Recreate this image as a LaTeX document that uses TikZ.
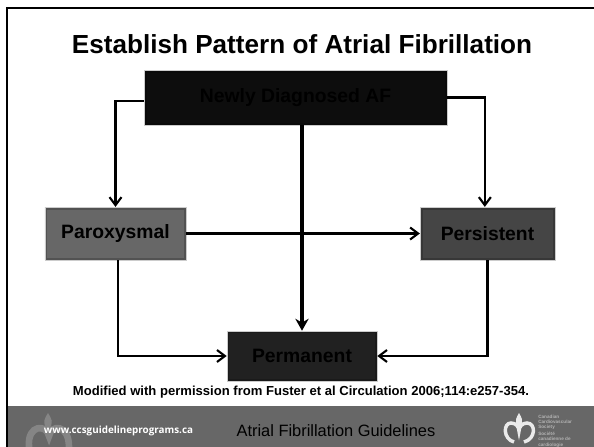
\documentclass[tikz,border=0pt]{standalone}
\usepackage{xcolor}
\usepackage{fontspec}
\setmainfont{Liberation Sans}
\newfontfamily\webfont{Open Sans}
\usepackage{tikz}
\usetikzlibrary{arrows.meta,positioning}

\definecolor{bandgray}{HTML}{676767}
\definecolor{logogray}{HTML}{858585}
\definecolor{logolight}{HTML}{EAEAEA}

\begin{document}
\begin{tikzpicture}[
    x=0.75pt, y=-0.75pt,
    box/.style={draw=black!20, line width=0.4pt, minimum height=39.5pt, align=center, font=\fontsize{14.5}{17}\selectfont\bfseries,
      path picture={\draw[black, opacity=.2, line width=3.5pt] (path picture bounding box.south west) rectangle (path picture bounding box.north east);}},
    arrow/.style={-{Straight Barb[length=6pt, width=9pt, line width=1.6pt]}, line width=1.9pt},
    mainarrow/.style={-{Stealth[length=9pt, width=10pt]}, line width=2.4pt}
  ]
    \useasboundingbox (0,0) rectangle (594,447);

    % slide frame and footer band
    \fill[bandgray] (7,406) rectangle (594,447);
    \draw[line width=2.2pt] (7,447) -- (7,8) -- (594,8);

    % footer marks
    \draw[logogray, line width=5pt, line cap=round] (29,447) .. controls (27,424) and (47,424) .. (49,436) .. controls (51,424) and (69,424) .. (69,447);
    \fill[logogray] (48,430) .. controls (41,423) and (45,418) .. (48,413) .. controls (51,418) and (55,423) .. (48,430);
    \draw[logolight, line width=2.6pt] (514,442) .. controls (503,439) and (503,423) .. (511,423) .. controls (516,423) and (519,427) .. (519,431) .. controls (519,427) and (522,423) .. (527,423) .. controls (536,423) and (536,439) .. (524,442);
    \fill[logolight] (519,428) .. controls (513,421) and (517,417) .. (519,413) .. controls (521,417) and (525,421) .. (519,428);

    \node[font=\fontsize{3.5}{4}\selectfont\bfseries, text=white!70!black, align=left, anchor=west, inner sep=0pt] (society) at (538,431) {Canadian\\Cardiovascular\\Society\\[1pt]Société\\canadienne de\\cardiologie};
    \node[font=\webfont\fontsize{7.4}{9}\selectfont\bfseries, text=white, inner sep=0pt] (web) at (118.5,431) {www.ccsguidelineprograms.ca};
    \node[font=\fontsize{12.3}{14}\selectfont, inner sep=0pt] (footer) at (336,431) {Atrial Fibrillation Guidelines};

    \node[font=\fontsize{19.6}{24}\selectfont\bfseries, inner sep=0pt] (title) at (302,44) {Establish Pattern of Atrial Fibrillation};
    \node[font=\fontsize{9.8}{12}\selectfont\bfseries, inner sep=0pt] (source) at (301,392.5) {Modified with permission from Fuster et al Circulation 2006;114:e257-354.};

    \node[box, fill=black!95, minimum width=227pt, minimum height=41pt] (newly) at (295.5,97.5) {Newly Diagnosed AF};
    \node[box, fill=bandgray, minimum width=106pt] (parox) at (115.5,233.5) {Paroxysmal};
    \node[box, fill=black!73, minimum width=101pt] (persist) at (487.5,233.5) {Persistent};
    \node[box, fill=black!87, minimum width=112.5pt, minimum height=37.5pt] (perm) at (302,356) {Permanent};

    \draw[arrow] ([yshift=-2.5pt]newly.west) -| (parox.north);
    \draw[arrow] (newly.east) -| ([xshift=-2pt]persist.north);
    \draw[mainarrow] (newly.south -| perm.north) -- (perm.north);
    \draw[arrow] (parox.east) -- (persist.west);
    \draw[arrow] ([xshift=2pt]parox.south) |- (perm.west);
    \draw[arrow] (persist.south) |- (perm.east);
  \end{tikzpicture}
\end{document}
